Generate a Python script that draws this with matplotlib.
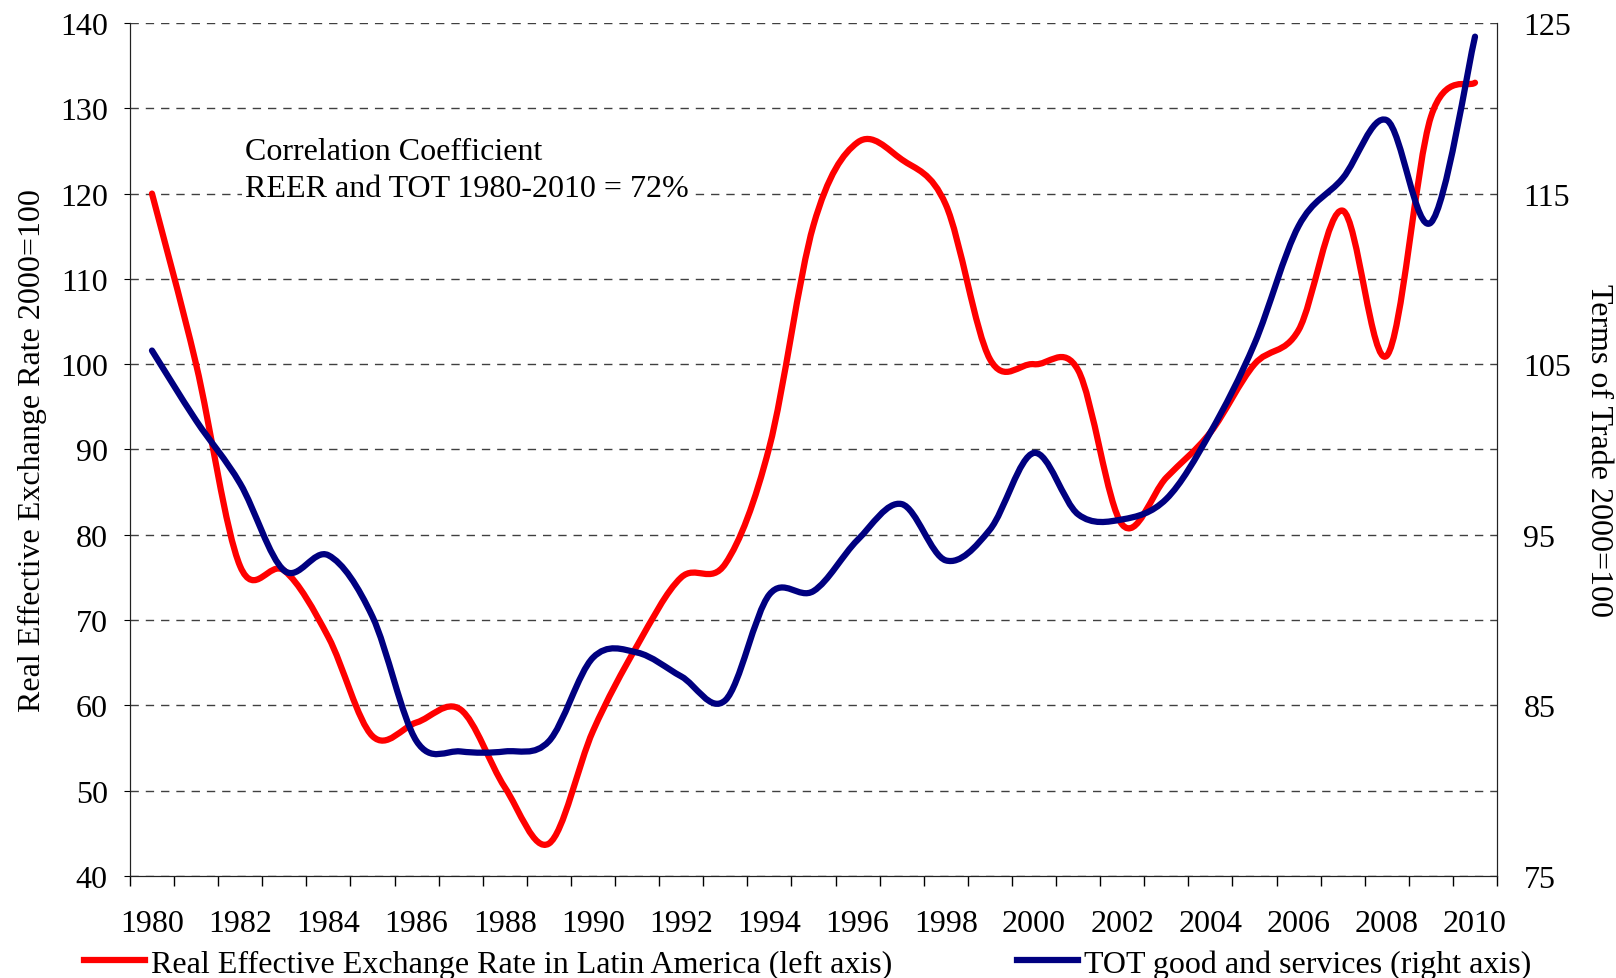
import numpy as np
import matplotlib.pyplot as plt
from matplotlib.path import Path
from matplotlib.patches import PathPatch
from matplotlib.lines import Line2D

plt.rcParams['font.family'] = ['Liberation Serif', 'DejaVu Serif']

years = list(range(1980, 2011))
reer = [120, 100, 76.3, 75.8, 68, 56.4, 58, 59.5, 50.4, 43.8,
        57, 67, 75, 76.6, 90.3, 116.3, 126, 124, 118.7, 100.6,
        100, 99.3, 81.2, 86.7, 92, 100, 104, 118, 101, 129, 133]
tot = [105.8, 101.7, 98, 92.9, 93.8, 90.2, 82.9, 82.3, 82.3, 82.9,
       87.8, 88.1, 86.7, 85.3, 91.5, 91.7, 94.7, 96.8, 93.5, 95.3,
       99.8, 96.2, 95.9, 97.1, 101, 106.2, 113.1, 115.9, 119.3, 113.3, 124.2]
tick_labels = [str(y) for y in years[::2]]

red = '#FF0000'
navy = '#000080'
fs = 23


def smooth_path(xs, ys):
    # Catmull-Rom as cubic bezier, like Excel's smoothed line
    pts = np.column_stack([xs, ys]).astype(float)
    n = len(pts)
    verts = [pts[0]]
    codes = [Path.MOVETO]
    for i in range(n - 1):
        p0 = pts[i - 1] if i > 0 else pts[i]
        p1 = pts[i]
        p2 = pts[i + 1]
        p3 = pts[i + 2] if i + 2 < n else pts[i + 1]
        c1 = p1 + (p2 - p0) / 6.0
        c2 = p2 - (p3 - p1) / 6.0
        verts += [c1, c2, p2]
        codes += [Path.CURVE4] * 3
    return Path(verts, codes)


fig = plt.figure(figsize=(16.16, 9.79), dpi=100)
ax = fig.add_axes([0.0804, 0.1042, 0.8460, 0.8713])
ax2 = ax.twinx()

x = np.arange(len(years))
ax.add_patch(PathPatch(smooth_path(x, reer), fill=False, edgecolor=red,
                       lw=4.5, capstyle='round', joinstyle='round'))
ax2.add_patch(PathPatch(smooth_path(x, tot), fill=False, edgecolor=navy,
                        lw=4.5, capstyle='round', joinstyle='round'))

ax.set_xlim(-0.5, len(years) - 0.5)
ax.set_ylim(40, 140)
ax2.set_ylim(75, 125)
ax.set_yticks(range(40, 141, 10))
ax2.set_yticks(range(75, 126, 10))

ax.set_xticks(np.arange(-0.5, len(years), 1.0))
ax.set_xticklabels([])
ax.set_xticks(x[::2], minor=True)
ax.set_xticklabels(tick_labels, minor=True)
ax.tick_params(axis='x', which='major', direction='out', length=7, width=1)
ax.tick_params(axis='x', which='minor', length=0, pad=24, labelsize=fs)
ax.tick_params(axis='y', direction='out', length=4, pad=12, labelsize=fs)
ax2.tick_params(axis='y', length=0, pad=19, labelsize=fs)

ax.yaxis.grid(True, linestyle=(0, (6, 5)), color='#404040', lw=1)
ax.set_axisbelow(True)
for a in (ax, ax2):
    a.spines['top'].set_visible(False)
    a.spines['left'].set_color('#222222')
    a.spines['right'].set_color('#222222')
    a.spines['bottom'].set_color('#222222')

ax.set_ylabel('Real Effective Exchange Rate 2000=100', fontsize=fs, labelpad=9)
ax2.set_ylabel('Terms of Trade 2000=100', fontsize=fs, rotation=-90, labelpad=30)

ax.text(2.1, 122.8, 'Correlation Coefficient\nREER and TOT 1980-2010 = 72%',
        fontsize=fs, va='center', ha='left', linespacing=1.35,
        bbox=dict(facecolor='white', edgecolor='none', pad=2))

handles = [Line2D([], [], color=red, lw=4.5),
           Line2D([], [], color=navy, lw=4.5)]
fig.legend(handles, ['Real Effective Exchange Rate in Latin America (left axis)',
                     'TOT good and services (right axis)'],
           loc='lower center', bbox_to_anchor=(0.5, -0.03), ncol=2, frameon=False,
           fontsize=fs, columnspacing=3.9, handlelength=1.9, handletextpad=0.2)

fig.savefig('out.png', dpi=100)
